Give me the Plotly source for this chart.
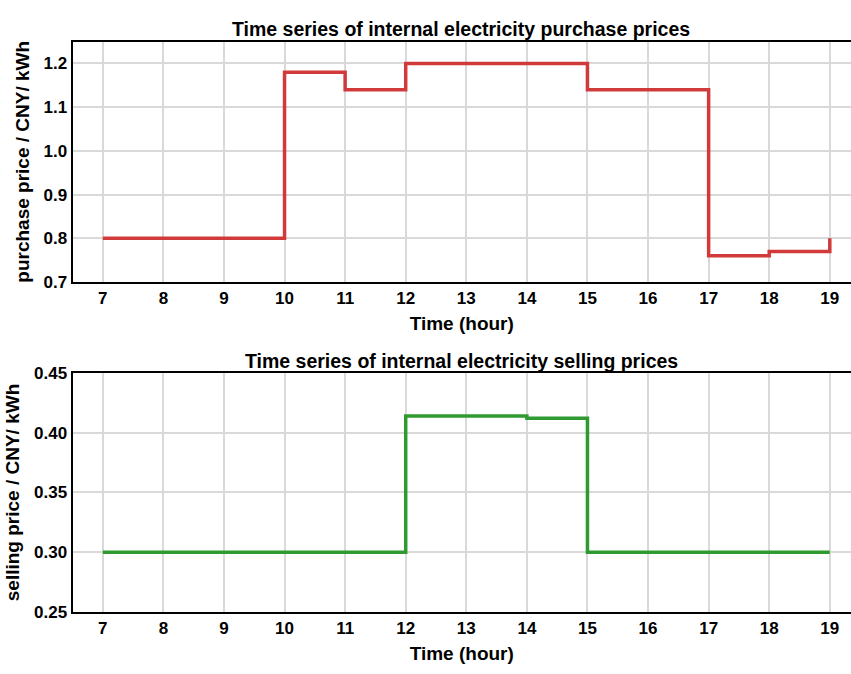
import plotly.graph_objects as go

# Hourly internal electricity prices (value holds until the next hour)
hours = [7, 8, 9, 10, 11, 12, 13, 14, 15, 16, 17, 18, 19]
purchase_price = [0.80, 0.80, 0.80, 1.18, 1.14, 1.20, 1.20, 1.20, 1.14, 1.14, 0.76, 0.77, 0.80]
selling_price = [0.30, 0.30, 0.30, 0.30, 0.30, 0.414, 0.414, 0.412, 0.30, 0.30, 0.30, 0.30, 0.30]

x_ticks = list(range(7, 20))
purchase_ticks = [0.7, 0.8, 0.9, 1.0, 1.1, 1.2]
selling_ticks = [0.25, 0.30, 0.35, 0.40, 0.45]

W, H = 851, 674
FONT = "Liberation Sans, Arial, sans-serif"

fig = go.Figure()
fig.add_trace(go.Scatter(x=hours, y=purchase_price, mode="lines", line_shape="hv",
                         line=dict(color="#d13a3a", width=3.5), xaxis="x", yaxis="y",
                         showlegend=False))
fig.add_trace(go.Scatter(x=hours, y=selling_price, mode="lines", line_shape="hv",
                         line=dict(color="#2f9a30", width=3.5), xaxis="x2", yaxis="y2",
                         showlegend=False))

def px_dom(top, bottom):
    return [1 - bottom / H, 1 - top / H]

tick_font = dict(family=FONT, size=17, color="black", weight="bold")
title_font = dict(family=FONT, size=19, color="black")
head_font = dict(family=FONT, size=19.5, color="black")

x_common = dict(range=[6.5, 19.35], tickvals=x_ticks, showgrid=True, gridcolor="#d9d9d9",
                gridwidth=2, showline=True, linecolor="black", linewidth=2, mirror=True,
                zeroline=False, ticks="", tickfont=tick_font,
                domain=[72.5 / W, 1.0])
y_common = dict(showgrid=True, gridcolor="#d9d9d9", gridwidth=2, showline=True,
                linecolor="black", linewidth=2, mirror=False, zeroline=False, ticks="",
                tickfont=tick_font)

fig.update_layout(
    width=W, height=H,
    margin=dict(l=0, r=0, t=0, b=0),
    plot_bgcolor="white", paper_bgcolor="white",
    font=dict(family=FONT, color="black"),
    xaxis=dict(**x_common, anchor="y",
               title=dict(text="<b>Time (hour)</b>", font=title_font, standoff=9)),
    yaxis=dict(**y_common, domain=px_dom(33.5, 281), range=[0.7, 1.25],
               tickvals=purchase_ticks, tickformat=".1f", anchor="x",
               title=dict(text="<b>purchase price / CNY/ kWh</b>", font=title_font, standoff=9)),
    xaxis2=dict(**x_common, anchor="y2",
                title=dict(text="<b>Time (hour)</b>", font=title_font, standoff=9)),
    yaxis2=dict(**y_common, domain=px_dom(374.5, 620.5), range=[0.25, 0.45],
                tickvals=selling_ticks, tickformat=".2f", anchor="x2",
                title=dict(text="<b>selling price / CNY/ kWh</b>", font=title_font, standoff=9)),
    annotations=[
        dict(text="<b>Time series of internal electricity purchase prices</b>",
             x=461 / W, y=1 - 21 / H, xref="paper", yref="paper", showarrow=False,
             font=head_font, xanchor="center", yanchor="middle"),
        dict(text="<b>Time series of internal electricity selling prices</b>",
             x=461 / W, y=1 - 362 / H, xref="paper", yref="paper", showarrow=False,
             font=head_font, xanchor="center", yanchor="middle"),
    ],
)

fig.write_html("out.html")
